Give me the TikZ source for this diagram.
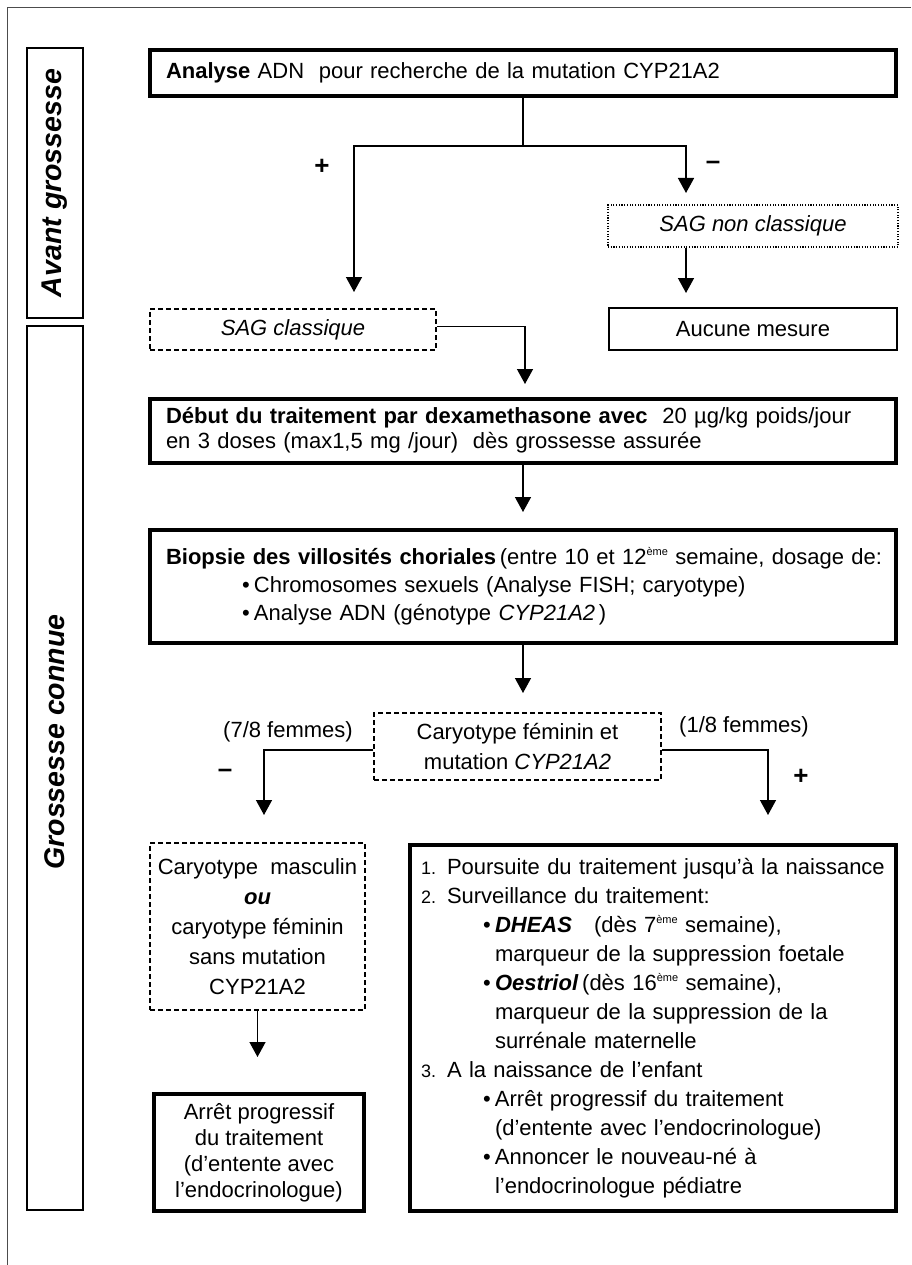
\documentclass[tikz,border=0pt]{standalone}
\usepackage{fontspec}
\setmainfont{Liberation Sans}
\usetikzlibrary{arrows.meta,calc}
\newcommand\expo[1]{\raisebox{0.38em}{\fontsize{11}{11}\selectfont #1}}
\newcommand\numb[1]{\makebox[26pt][l]{\fontsize{18}{18}\selectfont #1}}
\newcommand\bul{\makebox[12pt][l]{•}}
\begin{document}
\begin{tikzpicture}[x=1pt,y=-1pt,
  txt/.style={font=\fontsize{22}{29}\selectfont},
  box/.style={draw, rectangle, inner ysep=0pt, inner xsep=0pt, txt},
  thickbox/.style={box, line width=3.8pt},
  dashbox/.style={box, line width=1.2pt, dash pattern=on 5pt off 3pt},
  dotbox/.style={box, line width=1.1pt, dash pattern=on 1.1pt off 1.6pt},
  labbox/.style={draw, rectangle, line width=1.5pt, inner sep=0pt, rotate=90,
     font=\bfseries\itshape\fontsize{28.5}{30}\selectfont},
  sign/.style={font=\bfseries\fontsize{26}{26}\selectfont, inner sep=0pt},
  conn/.style={line width=1.4pt},
  arr/.style={conn, -{Triangle[width=16pt,length=15pt]}},
]
\useasboundingbox (0,0) rectangle (911,1265);
\draw[black!70, line width=1pt] (7,1265) -- (7,8) -- (911,8);

% side labels
\node[labbox, minimum width=270, minimum height=56] (avant) at (55,183) {Avant grossesse};
\node[labbox, minimum width=884, minimum height=56] (conn) at (55,768) {\hspace*{52pt}Grossesse connue};

% boxes
\node[thickbox, minimum width=746, minimum height=46, text width=714, inner xsep=16pt, align=left] (ana) at (523,73)
  {\textbf{Analyse} ADN\ \ pour recherche de la mutation CYP21A2};
\node[dotbox, minimum width=290, minimum height=42] (sagnc) at (753,226) {\textit{SAG non classique}};
\node[dashbox, minimum width=286, minimum height=41] (sagc) at (293,329.5) {\textit{SAG classique}};
\node[box, line width=2pt, minimum width=288, minimum height=42] (aucune) at (753,329) {Aucune mesure};
\node[thickbox, minimum width=746, minimum height=64, text width=714, inner xsep=16pt, align=left,
  font=\fontsize{22}{25}\selectfont] (debut) at (523,431)
  {\begin{tabular}{@{}l@{}}\textbf{Début du traitement par dexamethasone avec}\ \ 20 µg/kg poids/jour\\
   en 3 doses (max1,5 mg /jour)\ \ dès grossesse assurée\end{tabular}};
\node[thickbox, minimum width=746, minimum height=113, text width=714, inner xsep=16pt, align=left,
  font=\fontsize{22}{28}\selectfont] (biop) at (523,586.5)
  {\begin{tabular}{@{}l@{}}\textbf{Biopsie des villosités choriales}\,(entre 10 et 12\expo{ème} semaine, dosage de:\\
   \hspace*{76pt}\bul Chromosomes sexuels (Analyse FISH; caryotype)\\
   \hspace*{76pt}\bul Analyse ADN (génotype \textit{CYP21A2}\,)\end{tabular}};
\node[dashbox, minimum width=287, minimum height=67, align=center] (carf) at (517.5,746.5)
  {Caryotype féminin et\\mutation \textit{CYP21A2}};
\node[dashbox, minimum width=215, minimum height=167, align=center, font=\fontsize{22}{30}\selectfont] (carm) at (257.5,926.5)
  {Caryotype\ \ masculin\\\textbf{\textit{ou}}\\caryotype féminin\\sans mutation\\CYP21A2};
\node[thickbox, minimum width=210, minimum height=117, align=center, font=\fontsize{22}{26}\selectfont] (arret) at (259,1152.5)
  {Arrêt progressif\\du traitement\\(d’entente avec\\l’endocrinologue)};
\node[thickbox, minimum width=486, minimum height=366, text width=464, inner xsep=11pt, align=left] (suivi) at (653,1028)
  {\begin{tabular}{@{}l@{}}\numb{1.}Poursuite du traitement jusqu’à la naissance\\
   \numb{2.}Surveillance du traitement:\\
   \hspace*{62pt}\bul\textbf{\textit{DHEAS}}\ \ \ (dès 7\expo{ème} semaine),\\
   \hspace*{74pt}marqueur de la suppression foetale\\
   \hspace*{62pt}\bul\textbf{\textit{Oestriol}}\,(dès 16\expo{ème} semaine),\\
   \hspace*{74pt}marqueur de la suppression de la\\
   \hspace*{74pt}surrénale maternelle\\
   \numb{3.}A la naissance de l’enfant\\
   \hspace*{62pt}\bul Arrêt progressif du traitement\\
   \hspace*{74pt}(d’entente avec l’endocrinologue)\\
   \hspace*{62pt}\bul Annoncer le nouveau-né à\\
   \hspace*{74pt}l’endocrinologue pédiatre\end{tabular}};

% connectors
\coordinate (split) at (523,146);
\coordinate (tipL) at (354,292);
\coordinate (tipR) at (686,193);
\draw[conn] (ana.south) -- (split);
\draw[arr] (split) -| (tipL);
\draw[arr] (split) -| (tipR);
\coordinate (tipNC) at (686,293);
\draw[arr] (sagnc.south -| tipNC) -- (tipNC);
\coordinate (tipD) at (525,384);
\draw[arr] ([yshift=3pt]sagc.east) -| (tipD);
\coordinate (tipB) at (523,512);
\draw[arr] (debut.south) -- (tipB);
\coordinate (tipC) at (523,693);
\draw[arr] (biop.south) -- (tipC);
\coordinate (tipM) at (264,815);
\coordinate (tipP) at (768,815);
\draw[arr] ([yshift=-3.5pt]carf.west) -| (tipM);
\draw[arr] ([yshift=-3.5pt]carf.east) -| (tipP);
\coordinate (tipA) at (257.5,1057);
\draw[arr] (carm.south) -- (tipA);

% labels
\node[sign] (plus1) at (322,167) {+};
\node[sign] (minus1) at (713,165) {–};
\node[txt, inner sep=0pt] (f78) at (288,732) {(7/8 femmes)};
\node[txt, inner sep=0pt] (f18) at (744,727) {(1/8 femmes)};
\node[sign] (minus2) at (225,773) {–};
\node[sign] (plus2) at (801,777) {+};
\end{tikzpicture}
\end{document}
